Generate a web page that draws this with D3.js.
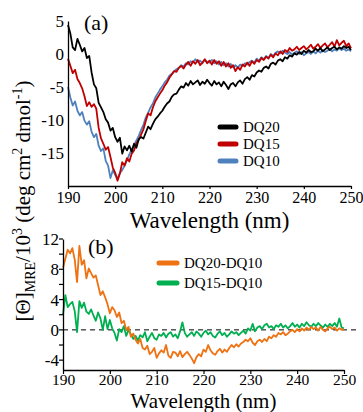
<!DOCTYPE html>
<html>
<head>
<meta charset="utf-8">
<script src="https://cdn.jsdelivr.net/npm/d3@7"></script>
<style>
  body { margin: 0; background: #fff; }
  svg { display: block; }
  svg text { font-family: "Liberation Serif", "DejaVu Serif", serif; }
</style>
</head>
<body>
<div id="chart"></div>
<script>
// Wavelength grid, 190-250 nm in 0.5 nm steps
const wavelength = d3.range(190, 250.01, 0.5)

// Panel (a) CD spectra, [Θ]MRE/10^3
const dq20 = [4.4, 3.1, 1.0, 0.6, 2.3, 1.4, 0.4, 0.9, -0.6, -0.3, -2.8, -4.6, -5.2, -7.4, -8.1, -8.8, -9.9, -10.4, -11.6, -11.2,
  -12.6, -13.3, -12.7, -15.1, -14.0, -14.6, -13.9, -14.8, -13.6, -14.2, -12.9, -12.6, -12.8, -11.9, -11.0, -11.4, -10.6, -9.9, -9.5, -9.0,
  -8.6, -8.0, -7.5, -7.2, -6.5, -6.1, -6.0, -5.4, -4.9, -5.1, -4.4, -4.8, -4.1, -4.6, -4.3, -4.0, -4.7, -4.2, -4.5, -3.9,
  -4.4, -4.8, -4.1, -4.6, -4.3, -4.9, -4.2, -4.7, -5.3, -4.6, -4.4, -4.9, -4.3, -4.0, -4.5, -3.8, -3.5, -3.9, -3.2, -3.4,
  -2.8, -2.5, -2.7, -2.1, -1.9, -2.2, -1.5, -1.3, -1.6, -1.0, -0.8, -1.1, -0.5, -0.7, -0.2, -0.4, 0.1, -0.1, 0.3, 0.0,
  0.5, 0.2, 0.6, 0.3, 0.4, 0.8, 0.5, 0.9, 0.4, 0.7, 1.0, 0.6, 0.9, 1.1, 0.7, 1.0, 0.8, 1.2, 0.9, 1.1, 0.6]

const dq15 = [-0.7, -1.8, -2.9, -2.4, -3.8, -4.4, -5.2, -6.4, -7.9, -7.3, -8.0, -7.6, -8.3, -11.2, -12.8, -13.6, -14.5, -14.1, -15.6, -17.2,
  -18.0, -19.2, -18.1, -16.4, -16.9, -15.8, -16.3, -15.1, -14.6, -13.5, -13.0, -12.2, -11.4, -10.1, -9.0, -9.3, -8.1, -7.2, -6.6, -6.0,
  -5.5, -4.8, -4.3, -3.6, -3.1, -2.6, -2.7, -2.1, -1.8, -2.2, -1.6, -1.2, -1.8, -1.1, -1.5, -0.9, -1.7, -1.3, -0.8, -1.4,
  -1.0, -1.6, -0.9, -1.5, -1.1, -1.8, -1.2, -1.9, -1.4, -2.1, -1.7, -2.6, -2.0, -2.4, -1.6, -1.9, -1.3, -1.8, -1.1, -1.5,
  -0.9, -1.2, -0.6, -0.9, -0.4, -0.7, -0.1, -0.5, 0.1, -0.2, 0.4, 0.0, 0.6, 0.3, 0.9, 0.5, 0.7, 1.1, 0.6, 0.9,
  1.2, 0.7, 1.0, 1.4, 0.8, 1.1, 1.5, 0.9, 1.3, 1.6, 1.0, 1.4, 1.8, 1.1, 2.1, 1.3, 1.7, 2.0, 1.2, 1.6, 0.9]

const dq10 = [-5.0, -6.6, -7.8, -7.2, -8.6, -9.3, -8.8, -10.1, -10.7, -10.2, -11.8, -12.6, -12.1, -13.9, -14.7, -14.3, -16.2, -16.9, -18.8, -17.6,
  -18.3, -18.9, -18.0, -17.6, -16.9, -16.1, -15.2, -14.5, -13.8, -13.1, -12.4, -11.5, -10.7, -9.6, -8.9, -8.1, -7.5, -6.6, -6.0, -5.4,
  -4.9, -4.3, -3.9, -3.3, -3.0, -2.6, -2.3, -2.1, -1.7, -1.9, -1.4, -1.6, -1.1, -1.3, -0.8, -1.2, -1.0, -1.4, -0.9, -1.2,
  -1.3, -0.9, -1.4, -1.1, -1.6, -1.2, -1.7, -1.4, -1.9, -1.5, -2.0, -1.7, -2.1, -1.6, -1.8, -1.4, -1.6, -1.2, -1.0, -1.3,
  -0.7, -1.0, -0.5, -0.8, -0.3, -0.6, 0.0, -0.3, 0.2, 0.4, 0.1, 0.5, 0.2, 0.0, 0.3, -0.1, 0.2, 0.4, 0.0, 0.3,
  -0.2, 0.1, 0.3, 0.0, 0.4, 0.1, 0.5, 0.2, 0.6, 0.3, 0.5, 0.8, 0.4, 0.7, 0.5, 0.9, 0.6, 0.8, 0.5, 0.7, 0.4]

// Panel (b) difference spectra
const dq20_dq10 = [8.2, 9.4, 10.6, 10.1, 10.8, 9.3, 6.3, 11.1, 8.6, 9.2, 6.8, 8.1, 7.5, 6.9, 7.2, 5.9, 4.6, 5.1, 4.3, 3.4,
  2.2, 3.0, 2.6, 1.7, 2.3, 0.9, 1.2, 0.0, 0.4, -0.9, -0.5, -1.3, -1.8, -1.2, -2.4, -2.6, -2.1, -3.2, -2.9, -2.4,
  -3.7, -3.1, -2.7, -3.0, -2.0, -3.4, -3.7, -2.9, -3.0, -3.5, -2.8, -3.6, -3.2, -2.9, -3.3, -3.8, -4.4, -3.6, -3.2, -3.5,
  -2.6, -2.9, -2.0, -2.7, -3.1, -3.3, -2.8, -2.5, -3.0, -2.6, -2.9, -2.4, -2.0, -2.3, -1.9, -2.2, -1.8, -1.6, -1.3, -1.5,
  -1.1, -1.7, -2.0, -1.5, -1.3, -1.6, -1.2, -1.5, -0.9, -1.1, -0.7, -0.9, -0.4, -0.6, -0.3, -0.7, -0.5, -0.2, 0.0, -0.3,
  0.1, -0.2, 0.2, -0.1, 0.3, 0.0, 0.4, 0.1, 0.3, -0.1, 0.4, 0.0, -0.2, 0.2, 0.4, 0.1, 0.3, -0.1, 0.2, 0.0, 0.1]

const dq15_dq10 = [2.0, 4.6, 3.0, 3.4, 3.7, 2.5, -0.3, 3.8, 2.9, 3.6, 2.4, 2.1, 2.7, 1.9, 1.2, 2.3, 1.5, 0.0, 1.8, 0.1,
  1.3, 0.2, -0.4, -1.4, 0.1, -0.3, 0.5, -0.8, 0.0, -0.6, -1.2, -0.8, -1.4, -0.7, -1.0, -0.3, -1.5, -0.9, -0.4, -1.1,
  -1.3, -0.6, -0.8, -0.4, -1.0, -0.5, -0.3, -0.9, -0.6, -1.1, -0.2, 1.0, -0.4, -0.9, -0.6, -0.3, -0.8, -0.2, -0.5, -0.9,
  -0.4, -0.1, -0.6, -0.3, -0.8, -1.0, -0.5, -0.2, -0.7, -0.4, -0.9, -0.6, -0.2, -0.5, -0.3, -0.7, -0.4, -0.1, -0.5, 0.2,
  -0.1, 0.8, -0.2, 0.3, 0.5, 0.1, 0.6, 0.8, 0.3, 0.5, 0.1, 0.6, 0.4, 0.8, 0.3, 0.6, 0.2, 0.5, 0.9, 0.4,
  0.7, 0.3, 0.8, 0.5, 1.0, 0.6, 0.4, 0.8, 0.5, 0.9, 0.6, 0.3, 0.7, 0.4, 0.8, 0.5, 0.9, 0.4, 1.5, 0.3, 0.2]

const seriesA = [
  { name: "DQ20", values: dq20, color: "#000000" },
  { name: "DQ15", values: dq15, color: "#c00000" },
  { name: "DQ10", values: dq10, color: "#4f81bd" }
]
const seriesB = [
  { name: "DQ20-DQ10", values: dq20_dq10, color: "#ee7212" },
  { name: "DQ15-DQ10", values: dq15_dq10, color: "#00b050" }
]

const xTicks = [190, 200, 210, 220, 230, 240, 250]
const yTicksA = [-15, -10, -5, 0, 5]
const yTicksB = [-4, 0, 4, 8, 12]
const yMinorB = [-4, -2, 0, 2, 4, 6, 8, 10, 12]

const svgWidth = 363
const svgHeight = 412
const serif = "Liberation Serif"

let svg = d3
  .select("#chart")
  .append("svg")
  .attr("width", svgWidth)
  .attr("height", svgHeight)
  .attr("font-family", serif)

function styleAxis(g, size) {
  g.attr("font-family", serif).attr("font-size", size)
  g.select(".domain").attr("stroke", "#000").attr("stroke-width", 1.3)
  g.selectAll(".tick line").attr("stroke", "#000").attr("stroke-width", 1.2)
  g.selectAll(".tick text")
    .attr("font-family", serif)
    .attr("font-size", size)
    .attr("fill", "#000")
}

function drawPanel(cfg) {
  let x = d3.scaleLinear().domain([190, 250]).range(cfg.xRange)
  let y = d3.scaleLinear().domain(cfg.yDomain).range(cfg.yRange)

  let line = d3
    .line()
    .x((d, i) => x(wavelength[i]))
    .y(d => y(d))

  if (cfg.zeroLine) {
    svg
      .append("line")
      .attr("x1", x(190))
      .attr("x2", svgWidth - 4)
      .attr("y1", y(0))
      .attr("y2", y(0))
      .attr("stroke", "#000")
      .attr("stroke-width", 1)
      .attr("stroke-dasharray", "5,4")
  }

  // draw later series first so the first one sits on top like the figure
  cfg.series
    .slice()
    .reverse()
    .forEach(s => {
      svg
        .append("path")
        .datum(s.values)
        .attr("fill", "none")
        .attr("stroke", s.color)
        .attr("stroke-width", 1.8)
        .attr("stroke-linejoin", "round")
        .attr("d", line)
    })

  let xAxis = svg
    .append("g")
    .attr("transform", `translate(0, ${cfg.yRange[0]})`)
    .call(
      d3
        .axisBottom(x)
        .tickValues(xTicks)
        .tickSize(cfg.xTickSize)
        .tickSizeOuter(0)
        .tickPadding(cfg.xTickPad)
        .tickFormat(d => String(d))
    )
  styleAxis(xAxis, cfg.xTickFont)

  let yAxis = svg
    .append("g")
    .attr("transform", `translate(${cfg.xRange[0]}, 0)`)
    .call(
      d3
        .axisLeft(y)
        .tickValues(cfg.yTicks)
        .tickSize(cfg.yTickSize)
        .tickSizeOuter(0)
        .tickPadding(4)
        .tickFormat(d => String(d))
    )
  styleAxis(yAxis, 17)

  if (cfg.yMinor) {
    yAxis
      .selectAll(".minor")
      .data(cfg.yMinor)
      .enter()
      .append("line")
      .attr("x1", -4)
      .attr("x2", 0)
      .attr("y1", d => y(d))
      .attr("y2", d => y(d))
      .attr("stroke", "#000")
      .attr("stroke-width", 1.2)
  }

  svg
    .append("text")
    .attr("x", (cfg.xRange[0] + cfg.xRange[1]) / 2)
    .attr("y", cfg.titleY)
    .attr("text-anchor", "middle")
    .attr("font-size", cfg.titleSize)
    .text("Wavelength (nm)")

  svg
    .append("text")
    .attr("x", cfg.tag[0])
    .attr("y", cfg.tag[1])
    .attr("font-size", 22)
    .text(cfg.tagText)

  // legend
  cfg.series.forEach((s, i) => {
    let ly = cfg.legend.y + i * cfg.legend.dy
    svg
      .append("line")
      .attr("x1", cfg.legend.x)
      .attr("x2", cfg.legend.x + cfg.legend.len)
      .attr("y1", ly)
      .attr("y2", ly)
      .attr("stroke", s.color)
      .attr("stroke-width", 5)
      .attr("stroke-linecap", "round")
    svg
      .append("text")
      .attr("x", cfg.legend.x + cfg.legend.len + 7)
      .attr("y", ly)
      .attr("dy", "0.35em")
      .attr("font-size", 15)
      .text(s.name)
  })
}

drawPanel({
  series: seriesA,
  xRange: [68, 351],
  yDomain: [-20, 5],
  yRange: [186, 21],
  yTicks: yTicksA,
  yTickSize: 0,
  xTickSize: 3,
  xTickPad: 3,
  xTickFont: 16,
  titleY: 228,
  titleSize: 23,
  tag: [84, 30],
  tagText: "(a)",
  legend: { x: 220, y: 127, dy: 17, len: 16 }
})

drawPanel({
  series: seriesB,
  xRange: [63, 344],
  yDomain: [-5.3, 12],
  yRange: [370, 239],
  yTicks: yTicksB,
  yMinor: yMinorB,
  yTickSize: 0,
  xTickSize: 4,
  xTickPad: 0,
  xTickFont: 15.5,
  titleY: 407.5,
  titleSize: 21,
  tag: [88, 254],
  tagText: "(b)",
  zeroLine: true,
  legend: { x: 159, y: 263, dy: 20, len: 18 }
})

// shared y-axis title
let yTitle = svg
  .append("text")
  .attr("transform", "translate(30, 201) rotate(-90)")
  .attr("text-anchor", "middle")
  .attr("font-size", 21)

yTitle.append("tspan").text("[Θ]")
yTitle.append("tspan").attr("font-size", 14).attr("dy", 5).text("MRE")
yTitle.append("tspan").attr("dy", -5).text("/10")
yTitle.append("tspan").attr("font-size", 14).attr("dy", -8).text("3")
yTitle.append("tspan").attr("dy", 8).text(" (deg cm")
yTitle.append("tspan").attr("font-size", 14).attr("dy", -8).text("2")
yTitle.append("tspan").attr("dy", 8).text(" dmol")
yTitle.append("tspan").attr("font-size", 14).attr("dy", -8).text("-1")
yTitle.append("tspan").attr("dy", 8).text(")")
</script>
</body>
</html>
